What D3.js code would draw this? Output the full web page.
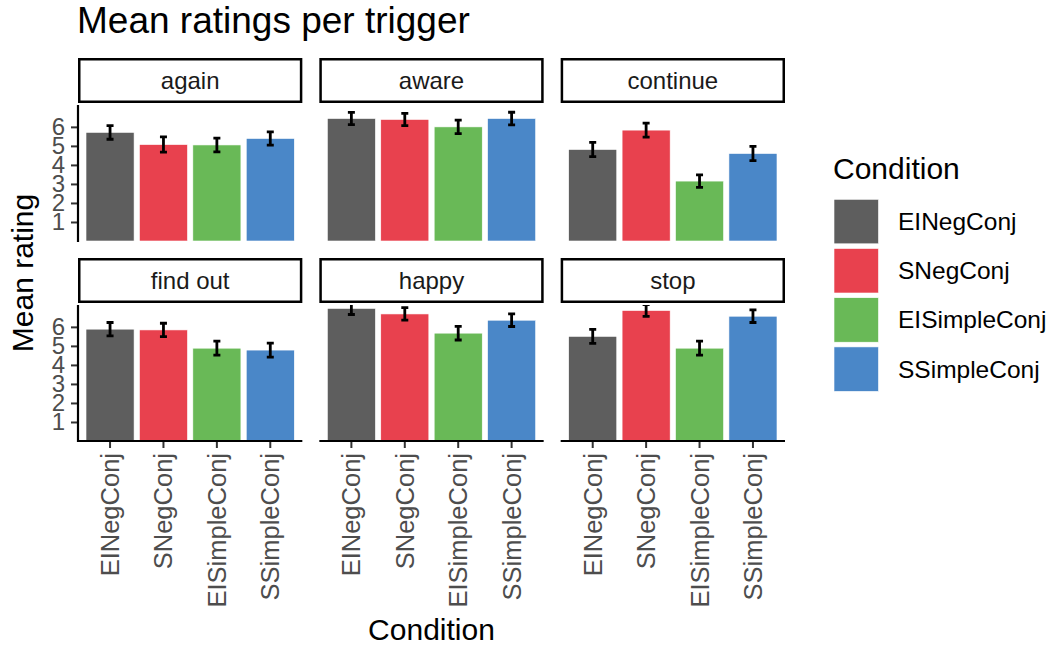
<!DOCTYPE html>
<html>
<head>
<meta charset="utf-8">
<script src="https://cdn.jsdelivr.net/npm/d3@7"></script>
<style>
  html, body { margin: 0; padding: 0; background: #fff; }
  svg { display: block; font-family: "Liberation Sans", Arial, Helvetica, sans-serif; }
</style>
</head>
<body>
<svg id="chart" width="1052" height="645"></svg>
<script>
// Facets, conditions and y-axis breaks
const triggers = ["again", "aware", "continue", "find out", "happy", "stop"];
const conditions = ["EINegConj", "SNegConj", "EISimpleConj", "SSimpleConj"];
const yTicks = [1, 2, 3, 4, 5, 6];

// Mean rating per trigger, one array per condition (order follows triggers)
const meanEINegConj    = [5.71, 6.44, 4.81, 5.88, 6.97, 5.50];
const meanSNegConj     = [5.07, 6.39, 5.83, 5.84, 6.68, 6.86];
const meanEISimpleConj = [5.05, 6.00, 3.15, 4.88, 5.67, 4.88];
const meanSSimpleConj  = [5.39, 6.44, 4.60, 4.78, 6.35, 6.56];

// Error bar half-widths, same layout
const errEINegConj    = [0.36, 0.32, 0.37, 0.35, 0.32, 0.37];
const errSNegConj     = [0.40, 0.32, 0.37, 0.35, 0.33, 0.31];
const errEISimpleConj = [0.36, 0.35, 0.33, 0.37, 0.36, 0.37];
const errSSimpleConj  = [0.35, 0.33, 0.37, 0.37, 0.33, 0.33];

const conditionColors = ["#5e5e5e", "#e8414e", "#69b957", "#4a87c8"];

const means = [meanEINegConj, meanSNegConj, meanEISimpleConj, meanSSimpleConj];
const errs  = [errEINegConj, errSNegConj, errEISimpleConj, errSSimpleConj];

const rows = triggers.flatMap((t, ti) =>
  conditions.map((c, ci) => ({ trigger: t, condition: c, mean: means[ci][ti], err: errs[ci][ti] }))
);

// Layout
const svg = d3.select("#chart");
const plotLeft = 78, plotRight = 785, colGap = 17;
const nCols = 3;
const panelW = (plotRight - plotLeft - colGap * (nCols - 1)) / nCols;
const panelH = 136;
const rowTops = [105, 305];
const stripH = 45, stripGap = 2;

const color = d3.scaleOrdinal().domain(conditions).range(conditionColors);
const x = d3.scaleBand().domain(conditions).range([0, panelW]).paddingInner(0.1).paddingOuter(0.15);
const y = d3.scaleLinear().domain([0, 7.15]).range([panelH, 0]);

const tickColor = "#333333";
const tickTextColor = "#4d4d4d";

// Clip path for panel contents
svg.append("defs").append("clipPath").attr("id", "panelClip")
  .append("rect").attr("x", 0).attr("y", 0).attr("width", panelW).attr("height", panelH);

triggers.forEach((t, i) => {
  const col = i % nCols, row = Math.floor(i / nCols);
  const px = plotLeft + col * (panelW + colGap);
  const py = rowTops[row];
  const g = svg.append("g").attr("transform", `translate(${px},${py})`);

  // Strip
  const strip = g.append("g").attr("transform", `translate(0,${-stripGap - stripH})`);
  strip.append("rect")
    .attr("x", 1.25).attr("y", 1.25)
    .attr("width", panelW - 2.5).attr("height", stripH - 2.5)
    .attr("fill", "#fff").attr("stroke", "#000").attr("stroke-width", 2.5);
  strip.append("text")
    .attr("x", panelW / 2).attr("y", stripH / 2)
    .attr("text-anchor", "middle").attr("dominant-baseline", "central")
    .attr("font-size", 24).attr("fill", "#1a1a1a")
    .text(t);

  // Bars and error bars
  const data = rows.filter(d => d.trigger === t);
  const body = g.append("g").attr("clip-path", "url(#panelClip)");
  body.selectAll("rect.bar").data(data).join("rect")
    .attr("class", "bar")
    .attr("x", d => x(d.condition))
    .attr("width", x.bandwidth())
    .attr("y", d => y(d.mean))
    .attr("height", d => y(0) - y(d.mean))
    .attr("fill", d => color(d.condition))
    .attr("stroke", "#ffffff").attr("stroke-width", 0.6);

  const cap = 3.5, ebw = 2.8;
  const eb = body.selectAll("g.eb").data(data).join("g").attr("class", "eb")
    .attr("transform", d => `translate(${x(d.condition) + x.bandwidth() / 2},0)`);
  eb.append("line")
    .attr("x1", 0).attr("x2", 0)
    .attr("y1", d => y(d.mean + d.err)).attr("y2", d => y(d.mean - d.err))
    .attr("stroke", "#000").attr("stroke-width", ebw);
  eb.append("line")
    .attr("x1", -cap).attr("x2", cap)
    .attr("y1", d => y(d.mean + d.err)).attr("y2", d => y(d.mean + d.err))
    .attr("stroke", "#000").attr("stroke-width", ebw);
  eb.append("line")
    .attr("x1", -cap).attr("x2", cap)
    .attr("y1", d => y(d.mean - d.err)).attr("y2", d => y(d.mean - d.err))
    .attr("stroke", "#000").attr("stroke-width", ebw);

  // Y axis on left column
  if (col === 0) {
    const ya = g.append("g")
      .call(d3.axisLeft(y).tickValues(yTicks).tickSize(7).tickPadding(6).tickFormat(d3.format("d")));
    ya.select(".domain").remove();
    ya.selectAll(".tick line").attr("stroke", tickColor).attr("stroke-width", 2);
    ya.selectAll(".tick text").attr("fill", tickTextColor).attr("font-size", 24)
      .attr("font-family", "Liberation Sans, Arial, sans-serif");
    g.append("line").attr("x1", 0).attr("x2", 0).attr("y1", 0).attr("y2", panelH + 1)
      .attr("stroke", "#000").attr("stroke-width", 2.2);
  }

  // X axis on bottom row
  if (row === 1) {
    const xa = g.append("g").attr("transform", `translate(0,${panelH})`)
      .call(d3.axisBottom(x).tickSize(7).tickPadding(5));
    xa.select(".domain").remove();
    xa.selectAll(".tick line").attr("stroke", tickColor).attr("stroke-width", 2);
    xa.selectAll(".tick text")
      .attr("fill", tickTextColor).attr("font-size", 25.5)
      .attr("font-family", "Liberation Sans, Arial, sans-serif")
      .attr("transform", "rotate(-90)")
      .attr("text-anchor", "end")
      .attr("dy", null)
      .attr("dominant-baseline", "central")
      .attr("x", -12).attr("y", 0);
    g.append("line").attr("x1", col === 0 ? -1 : 0).attr("x2", panelW).attr("y1", panelH).attr("y2", panelH)
      .attr("stroke", "#000").attr("stroke-width", 2.2);
  }
});

// Title
svg.append("text")
  .attr("x", 77).attr("y", 33)
  .attr("font-size", 37).attr("fill", "#000")
  .text("Mean ratings per trigger");

// Axis titles
svg.append("text")
  .attr("transform", `translate(33,${(rowTops[0] + rowTops[1] + panelH) / 2}) rotate(-90)`)
  .attr("text-anchor", "middle")
  .attr("font-size", 30).attr("fill", "#000")
  .text("Mean rating");

svg.append("text")
  .attr("x", (plotLeft + plotRight) / 2).attr("y", 640)
  .attr("text-anchor", "middle")
  .attr("font-size", 30).attr("fill", "#000")
  .text("Condition");

// Legend
const legend = svg.append("g").attr("transform", "translate(833,0)");
legend.append("text")
  .attr("x", 0).attr("y", 179)
  .attr("font-size", 30).attr("fill", "#000")
  .text("Condition");
const keySize = 44.5, keyStep = 49.2, keyTop = 199.3;
const items = legend.selectAll("g.key").data(conditions).join("g").attr("class", "key")
  .attr("transform", (d, i) => `translate(1,${keyTop + i * keyStep})`);
items.append("rect")
  .attr("width", keySize).attr("height", keySize)
  .attr("fill", d => color(d))
  .attr("stroke", "#ffffff").attr("stroke-width", 0.6);
items.append("text")
  .attr("x", 64).attr("y", keySize / 2)
  .attr("dominant-baseline", "central")
  .attr("font-size", 24.5).attr("fill", "#000")
  .text(d => d);
</script>
</body>
</html>
